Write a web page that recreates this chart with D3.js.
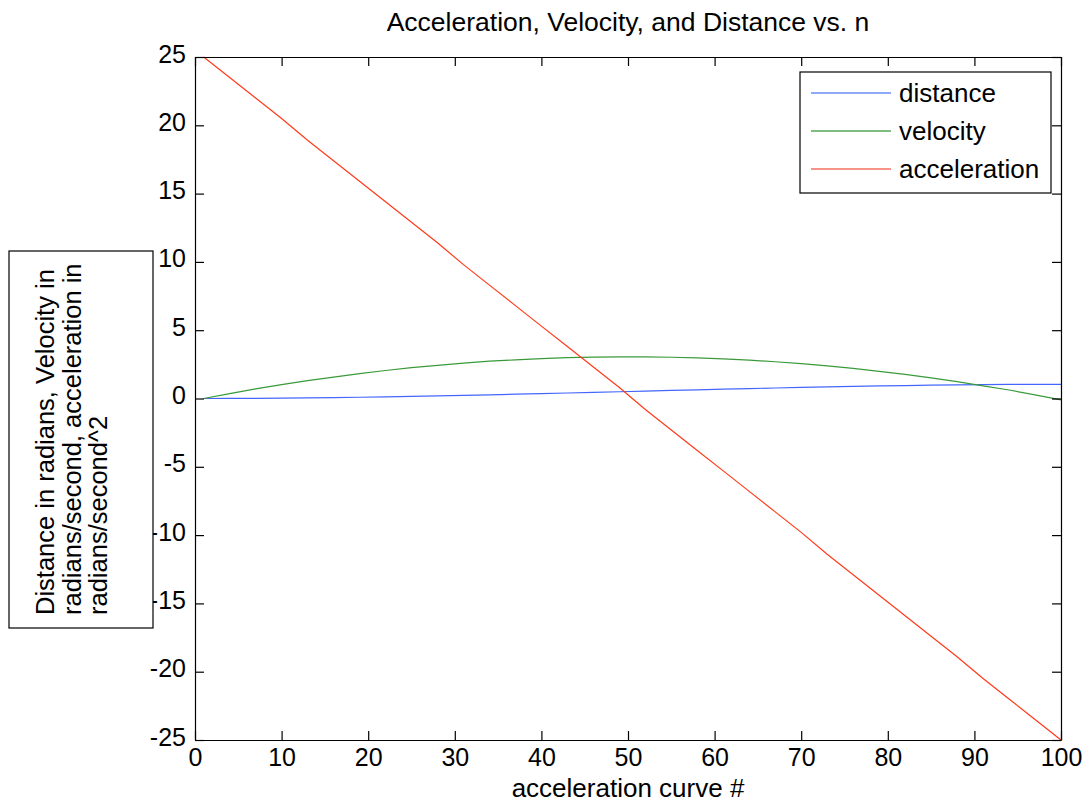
<!DOCTYPE html>
<html>
<head>
<meta charset="utf-8">
<script src="https://cdn.jsdelivr.net/npm/d3@7"></script>
<style>
  body { margin: 0; background: #fff; }
  text { font-family: "Liberation Sans", Arial, Helvetica, sans-serif; fill: #000; }
</style>
</head>
<body>
<svg id="chart" width="1086" height="802"></svg>
<script>
"use strict";

//sample index (every third curve #)
const nValues = [1, 4, 7, 10, 13, 16, 19, 22, 25, 28, 31, 34, 37, 40, 43, 46, 49,
  52, 55, 58, 61, 64, 67, 70, 73, 76, 79, 82, 85, 88, 91, 94, 97, 100];

//series
const distance = [0, 0.003, 0.011, 0.024, 0.042, 0.064, 0.091, 0.121, 0.154, 0.19, 0.229, 0.27,
  0.313, 0.357, 0.403, 0.449, 0.496, 0.544, 0.591, 0.637, 0.683, 0.727, 0.77, 0.811, 0.85,
  0.886, 0.919, 0.949, 0.976, 0.998, 1.016, 1.029, 1.037, 1.04];
const velocity = [0, 0.36, 0.7, 1.01, 1.31, 1.57, 1.82, 2.05, 2.26, 2.43, 2.59, 2.73, 2.83,
  2.92, 2.99, 3.03, 3.05, 3.05, 3.02, 2.97, 2.9, 2.81, 2.69, 2.55, 2.39, 2.2, 1.99, 1.76,
  1.51, 1.23, 0.93, 0.62, 0.26, -0.1];
const acceleration = [25, 23.5, 22, 20.5, 18.9, 17.4, 15.9, 14.4, 12.9, 11.4, 9.8, 8.3, 6.8,
  5.3, 3.8, 2.3, 0.8, -0.8, -2.3, -3.8, -5.3, -6.8, -8.3, -9.8, -11.4, -12.9, -14.4, -15.9,
  -17.4, -18.9, -20.5, -22, -23.5, -25];

const seriesNames = ["distance", "velocity", "acceleration"];
const xTicks = [0, 10, 20, 30, 40, 50, 60, 70, 80, 90, 100];
const yTicks = [25, 20, 15, 10, 5, 0, -5, -10, -15, -20, -25];

const titleText = "Acceleration, Velocity, and Distance vs. n";
const xLabelText = "acceleration curve #";
const yLabelLines = ["Distance in radians, Velocity in", "radians/second, acceleration in", "radians/second^2"];

const plot = { left: 195, top: 57, right: 1061, bottom: 740 };
const lineColors = ["#4466ff", "#3a9a3a", "#ff3a1a"];
const legendColors = ["#2255ee", "#007a00", "#ee2a10"];
const tickSize = 9;
const tickFont = 25;

const svg = d3.select("#chart");

const x = d3.scaleLinear().domain([0, 100]).range([plot.left, plot.right]);
const y = d3.scaleLinear().domain([-25, 25]).range([plot.bottom, plot.top]);

//lines
const allSeries = [distance, velocity, acceleration];
const line = d3.line().x((d, i) => x(nValues[i])).y(d => y(d));
allSeries.forEach((s, i) => {
  svg.append("path")
    .attr("d", line(s))
    .attr("fill", "none")
    .attr("stroke", lineColors[i])
    .attr("stroke-width", 1.2);
});

//axes, ticks pointing inward on all four sides
const drawAxis = function (axis, tx, ty) {
  const g = svg.append("g").attr("transform", "translate(" + tx + "," + ty + ")").call(axis);
  g.select(".domain").attr("stroke", "#000").attr("stroke-width", 1.2);
  g.selectAll(".tick line").attr("stroke", "#000").attr("stroke-width", 1.2);
  return g;
}

//plain hyphen for negatives, like the original
const plainFormat = d => String(d);

const axisB = drawAxis(d3.axisBottom(x).tickValues(xTicks).tickFormat(plainFormat)
  .tickSizeInner(-tickSize).tickSizeOuter(0).tickPadding(8), 0, plot.bottom);
axisB.selectAll("text").attr("font-size", tickFont).attr("font-family", null).attr("fill", "#000");

const axisL = drawAxis(d3.axisLeft(y).tickValues(yTicks).tickFormat(plainFormat)
  .tickSizeInner(-tickSize).tickSizeOuter(0).tickPadding(9), plot.left, 0);
axisL.selectAll("text").attr("font-size", tickFont).attr("font-family", null).attr("fill", "#000").attr("dy", "0.2em");

drawAxis(d3.axisTop(x).tickValues(xTicks).tickSizeInner(-tickSize).tickSizeOuter(0).tickFormat(""), 0, plot.top);
drawAxis(d3.axisRight(y).tickValues(yTicks).tickSizeInner(-tickSize).tickSizeOuter(0).tickFormat(""), plot.right, 0);

//title and x label
svg.append("text")
  .attr("x", (plot.left + plot.right) / 2)
  .attr("y", 31)
  .attr("text-anchor", "middle")
  .attr("font-size", 26.5)
  .text(titleText);

svg.append("text")
  .attr("x", (plot.left + plot.right) / 2)
  .attr("y", 797)
  .attr("text-anchor", "middle")
  .attr("font-size", 26)
  .text(xLabelText);

//y label in its own box
svg.append("rect")
  .attr("x", 9).attr("y", 251).attr("width", 144).attr("height", 377)
  .attr("fill", "#fff").attr("stroke", "#000").attr("stroke-width", 1.2);
yLabelLines.forEach((t, i) => {
  svg.append("text")
    .attr("transform", "translate(" + (54 + i * 26.5) + ",615) rotate(-90)")
    .attr("font-size", 25.5)
    .text(t);
});

//legend
const legend = svg.append("g").attr("transform", "translate(800,72)");
legend.append("rect")
  .attr("width", 251).attr("height", 121)
  .attr("fill", "#fff").attr("stroke", "#000").attr("stroke-width", 1.2);
seriesNames.forEach((name, i) => {
  const ly = 21 + i * 38;
  legend.append("line")
    .attr("x1", 11).attr("x2", 91).attr("y1", ly).attr("y2", ly)
    .attr("stroke", legendColors[i]).attr("stroke-width", 1.2);
  legend.append("text")
    .attr("x", 99).attr("y", ly + 9)
    .attr("font-size", 26)
    .text(name);
});
</script>
</body>
</html>
